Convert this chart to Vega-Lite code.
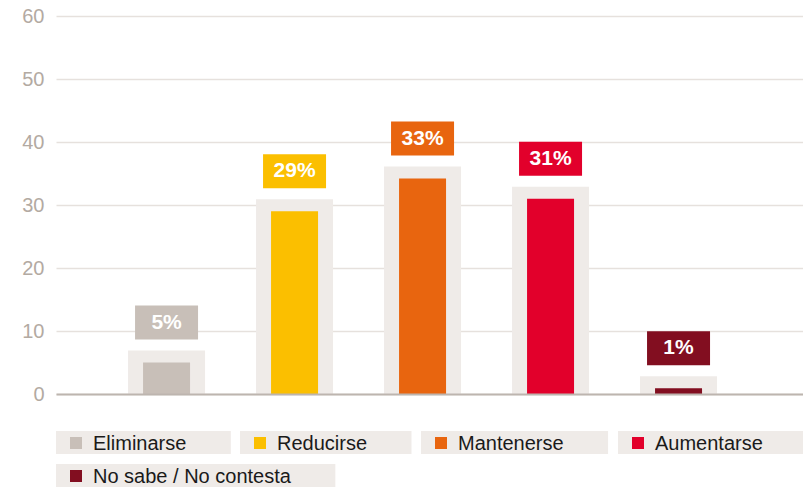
{
  "$schema": "https://vega.github.io/schema/vega-lite/v6.json",
  "width": 747,
  "height": 378,
  "autosize": "none",
  "padding": {"left": 56, "top": 16, "right": 0, "bottom": 93},
  "background": "white",
  "config": {
    "view": {"stroke": null},
    "font": "Liberation Sans",
    "legend": {
      "orient": "none",
      "direction": "horizontal",
      "columnPadding": 9,
      "padding": 0,
      "title": null,
      "symbolType": "square",
      "symbolSize": 144,
      "symbolStrokeWidth": 0,
      "labelFontSize": 20,
      "labelColor": "#1a1a1a",
      "labelLimit": 400
    }
  },
  "data": {
    "values": [
      {"cat": "Eliminarse", "value": 5, "label": "5%"},
      {"cat": "Reducirse", "value": 29, "label": "29%"},
      {"cat": "Mantenerse", "value": 34.2, "label": "33%"},
      {"cat": "Aumentarse", "value": 31, "label": "31%"},
      {"cat": "No sabe / No contesta", "value": 0.9, "label": "1%"}
    ]
  },
  "encoding": {
    "x": {
      "field": "cat",
      "type": "nominal",
      "sort": null,
      "scale": {"paddingInner": 0, "paddingOuter": 0.418, "align": 0.435},
      "axis": {"labels": false, "ticks": false, "title": null, "domain": true, "domainColor": "#bdb5af", "domainWidth": 2, "grid": false, "zindex": 1}
    },
    "y": {
      "field": "value",
      "type": "quantitative",
      "scale": {"domain": [0, 60], "nice": false},
      "axis": {"values": [0, 10, 20, 30, 40, 50, 60], "grid": true, "gridColor": "#e6e1dd", "gridWidth": 1.5, "domain": false, "ticks": false, "labelColor": "#b3aaa2", "labelFontSize": 20, "labelPadding": 12, "title": null}
    }
  },
  "layer": [
    {
      "mark": {"type": "bar", "width": 77, "color": "#efebe8", "yOffset": -12},
      "encoding": {"y2": {"datum": 0}}
    },
    {
      "mark": {"type": "bar", "width": 47},
      "encoding": {
        "color": {
          "field": "cat",
          "type": "nominal",
          "sort": null,
          "scale": {
            "domain": ["Eliminarse", "Reducirse", "Mantenerse", "Aumentarse", "No sabe / No contesta"],
            "range": ["#c8bfb8", "#fbbf00", "#e8650f", "#e2002b", "#820e20"]
          },
          "legend": {
            "legendX": 0,
            "legendY": 415,
            "columns": 4,
            "values": ["Eliminarse", "Reducirse", "Mantenerse", "Aumentarse"],
            "labelExpr": "datum.label + '\u00a0\u00a0\u00a0\u00a0\u00a0\u00a0\u00a0\u00a0\u200b'",
            "encode": {
              "entries": {"update": {"fill": {"value": "#efebe8"}}},
              "symbols": {"update": {"x": {"value": 20}, "y": {"value": 12}}},
              "labels": {"update": {"x": {"value": 37}, "y": {"value": 13}, "baseline": {"value": "middle"}}}
            }
          }
        }
      }
    },
    {
      "mark": {"type": "bar", "width": 63, "yOffset": -57, "y2Offset": -23},
      "encoding": {
        "y2": {"field": "value"},
        "fill": {
          "field": "cat",
          "type": "nominal",
          "sort": null,
          "scale": {
            "domain": ["No sabe / No contesta", "Eliminarse", "Reducirse", "Mantenerse", "Aumentarse"],
            "range": ["#820e20", "#c8bfb8", "#fbbf00", "#e8650f", "#e2002b"]
          },
          "legend": {
            "legendX": 0,
            "legendY": 448,
            "columns": 1,
            "values": ["No sabe / No contesta"],
            "labelExpr": "datum.label + '\u00a0\u00a0\u00a0\u00a0\u00a0\u00a0\u00a0\u00a0\u200b'",
            "encode": {
              "entries": {"update": {"fill": {"value": "#efebe8"}}},
              "symbols": {"update": {"x": {"value": 20}, "y": {"value": 12}}},
              "labels": {"update": {"x": {"value": 37}, "y": {"value": 13}, "baseline": {"value": "middle"}}}
            }
          }
        }
      }
    },
    {
      "mark": {"type": "text", "color": "white", "fontWeight": "bold", "fontSize": 21, "baseline": "middle", "align": "center", "yOffset": -40},
      "encoding": {
        "text": {"field": "label"}
      }
    }
  ]
}
